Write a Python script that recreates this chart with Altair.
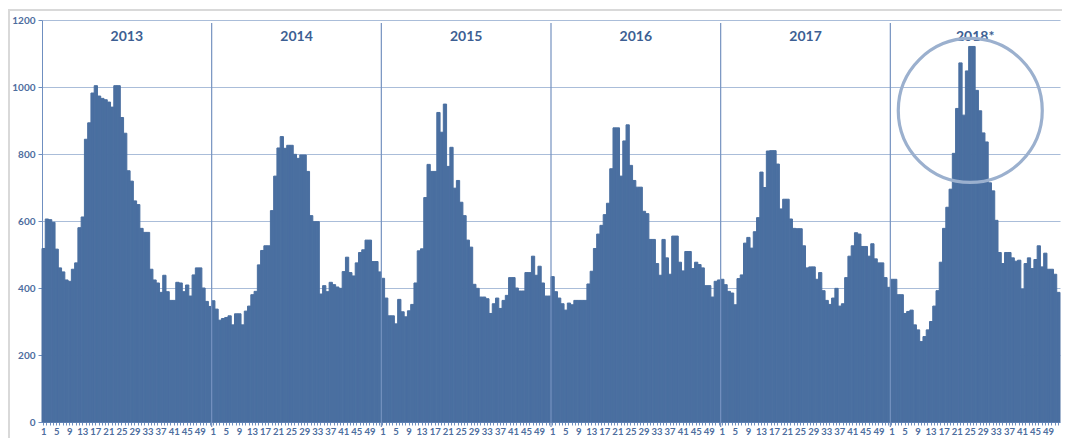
import altair as alt
import pandas as pd

years = ["2013", "2014", "2015", "2016", "2017", "2018*"]

v2013 = [518, 606, 604, 596, 516, 460, 448, 424, 420, 456,
         475, 580, 612, 844, 893, 982, 1004, 973, 966, 962,
         955, 940, 1004, 1004, 909, 862, 750, 719, 660, 649,
         578, 566, 566, 456, 424, 415, 387, 438, 389, 363,
         363, 417, 415, 389, 409, 376, 439, 460, 460, 400,
         360, 345]
v2014 = [362, 337, 304, 309, 312, 317, 290, 323, 323, 290,
         331, 346, 380, 390, 469, 512, 526, 526, 631, 734,
         818, 852, 817, 826, 826, 799, 787, 797, 797, 748,
         616, 598, 598, 382, 407, 389, 417, 410, 403, 399,
         449, 492, 446, 436, 475, 506, 514, 543, 543, 479,
         479, 448]
v2015 = [429, 370, 317, 317, 293, 366, 329, 314, 332, 351,
         415, 511, 517, 670, 769, 748, 748, 924, 865, 949,
         763, 820, 698, 721, 656, 616, 543, 522, 411, 399,
         373, 373, 368, 324, 353, 370, 339, 363, 378, 431,
         431, 400, 391, 391, 446, 446, 495, 438, 465, 415,
         376, 376]
v2016 = [434, 389, 370, 353, 334, 355, 350, 363, 363, 363,
         363, 412, 450, 518, 561, 587, 619, 653, 756, 878,
         878, 734, 839, 887, 766, 721, 701, 701, 629, 622,
         545, 545, 473, 438, 545, 490, 441, 555, 555, 477,
         451, 509, 509, 458, 477, 470, 460, 407, 407, 373,
         420, 424]
v2017 = [426, 410, 390, 385, 350, 428, 439, 534, 551, 519,
         568, 610, 746, 700, 809, 810, 810, 770, 636, 665,
         665, 606, 578, 577, 577, 526, 460, 463, 463, 426,
         446, 392, 363, 351, 370, 399, 346, 353, 431, 495,
         526, 565, 561, 524, 524, 495, 532, 487, 475, 475,
         431, 402]
v2018 = [426, 426, 380, 380, 324, 330, 334, 290, 275, 240,
         255, 275, 300, 346, 392, 477, 578, 641, 695, 802,
         936, 1072, 916, 1048, 1121, 1121, 990, 929, 863, 836,
         714, 690, 602, 506, 473, 506, 506, 490, 480, 483,
         397, 473, 490, 458, 485, 526, 463, 504, 456, 456,
         441, 387]

series = [v2013, v2014, v2015, v2016, v2017, v2018]
WEEKS = 52
y_ticks = [0, 200, 400, 600, 800, 1000, 1200]
highlight_year = 5
highlight_week = 25
highlight_value = 930

rows = []
for yi, vals in enumerate(series):
    for w, v in enumerate(vals):
        rows.append({"i": yi * WEEKS + w, "year": years[yi], "week": w + 1, "value": v})
df = pd.DataFrame(rows)
n = len(df)

sep_df = pd.DataFrame({"i": [yi * WEEKS for yi in range(1, len(years))]})
lab_df = pd.DataFrame({"i": [yi * WEEKS + WEEKS // 2 for yi in range(len(years))], "year": years})
circ_df = pd.DataFrame({"i": [highlight_year * WEEKS + highlight_week - 1], "value": [highlight_value]})

W, H = 1018, 402
FONT = "Lato"
AXC = "#6f8fc0"
LABC = "#4d6d9e"
BAR = "#4a6fa0"

xscale = alt.Scale(domain=list(range(n)), paddingInner=0, paddingOuter=0)
yscale = alt.Scale(domain=[0, 1200], nice=False)

frame_top = alt.Chart(pd.DataFrame({"a": [0]})).mark_rule(color="#d9d9d9", strokeWidth=2).encode(
    x=alt.value(-34), x2=alt.value(W + 2), y=alt.value(-10))
frame_left = alt.Chart(pd.DataFrame({"a": [0]})).mark_rule(color="#d9d9d9", strokeWidth=2).encode(
    x=alt.value(-33), y=alt.value(-10), y2=alt.value(H + 18))

bars = alt.Chart(df).mark_bar(color=BAR, stroke=BAR, strokeWidth=1).encode(
    x=alt.X("i:O", scale=xscale,
            axis=alt.Axis(title=None, values=list(range(n)),
                          labelExpr="((datum.value % 52) % 4 == 0 && (datum.value % 52) <= 48) ? (datum.value % 52) + 1 : ''",
                          labelOverlap=False, labelAngle=0, labelFont=FONT, labelFontWeight="bold",
                          labelFontSize=9.5, labelColor=LABC, labelPadding=1, tickSize=3,
                          tickColor=AXC, domainColor=AXC, grid=False)),
    y=alt.Y("value:Q", scale=yscale,
            axis=alt.Axis(title=None, values=y_ticks, format="d", grid=True, gridColor="#aabdd9",
                          gridWidth=1.2, domainColor=AXC, tickColor=AXC, tickSize=4, labelFont=FONT,
                          labelFontWeight="bold", labelFontSize=10, labelColor=LABC, labelPadding=3)),
)

seps = alt.Chart(sep_df).mark_rule(color="#7592c0", strokeWidth=1.2).encode(
    x=alt.X("i:O", scale=xscale, bandPosition=0),
    y=alt.value(3), y2=alt.value(H + 5))

labels = alt.Chart(lab_df).mark_text(font=FONT, fontWeight="bold", fontSize=14, color="#3d5f93",
                                     baseline="middle", align="center").encode(
    x=alt.X("i:O", scale=xscale, bandPosition=0),
    y=alt.value(17), text="year:N")

circle = alt.Chart(circ_df).mark_point(shape="circle", filled=False, color="#9bb0ce",
                                       strokeWidth=3.2, size=20736, opacity=1).encode(
    x=alt.X("i:O", scale=xscale),
    y=alt.Y("value:Q", scale=yscale))

chart = alt.layer(frame_top, frame_left, bars, seps, labels, circle).properties(
    width=W, height=H,
    autosize=alt.AutoSizeParams(type="none"),
    padding={"left": 34, "top": 12, "right": 2, "bottom": 16},
    background="white",
).configure_view(stroke=None)

chart.save("out.html", embed_options={"renderer": "svg", "actions": False})
